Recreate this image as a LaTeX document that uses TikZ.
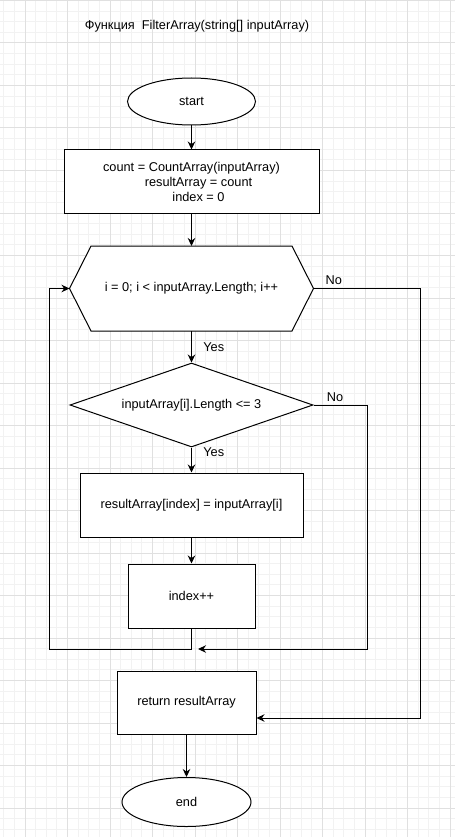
\documentclass[tikz,border=0pt]{standalone}
\usepackage{fontspec}
\setmainfont{Liberation Sans}
\usetikzlibrary{shapes.geometric,arrows.meta}
\definecolor{minorgrid}{RGB}{242,242,242}
\definecolor{majorgrid}{RGB}{224,224,224}
\begin{document}
\begin{tikzpicture}[x=1pt,y=-1pt,
    every node/.style={font=\fontsize{12.75}{15}\selectfont},
    block/.style={draw,fill=white,line width=1pt,rectangle,inner sep=0pt},
    term/.style={draw,fill=white,line width=1pt,ellipse,inner sep=0pt},
    cond/.style={draw,fill=white,line width=1pt,diamond,shape aspect=2.9,
      inner sep=0pt,minimum width=243,minimum height=84},
    link/.style={line width=1pt},
    flow/.style={link,-{Stealth[length=8pt,width=7.5pt]}}]
  \fill[white] (0,0) rectangle (455,837);
  \useasboundingbox (0,0) rectangle (455,837);
  % grid
  \foreach \i in {0,...,42}
    \draw[minorgrid,line width=1pt] ({3.75+\i*10.625},0) -- ({3.75+\i*10.625},837);
  \foreach \i in {0,...,78}
    \draw[minorgrid,line width=1pt] (0,{0.5+\i*10.625}) -- (455,{0.5+\i*10.625});
  \foreach \i in {0,...,10}
    \draw[majorgrid,line width=1pt] ({25+\i*42.5},0) -- ({25+\i*42.5},837);
  \foreach \i in {0,...,19}
    \draw[majorgrid,line width=1pt] (0,{0.5+\i*42.5}) -- (455,{0.5+\i*42.5});

  \node (title) at (197,26) {Функция\ \ FilterArray(string[] inputArray)};
  \node[term,minimum width=128,minimum height=47] (start) at (191.5,101.5) {start};
  \node[block,minimum width=255,minimum height=63,align=center] (init) at (191.5,181.5)
    {count = CountArray(inputArray)\\\hspace*{14pt}resultArray = count\\\hspace*{14pt}index = 0};
  \node[inner sep=0pt,outer sep=0pt,minimum width=244,minimum height=85] (loop) at (191.5,288.5) {};
  \filldraw[link,fill=white] ([xshift=21.5pt]loop.north west) -- ([xshift=-21.5pt]loop.north east)
    -- (loop.east) -- ([xshift=-21.5pt]loop.south east) -- ([xshift=21.5pt]loop.south west)
    -- (loop.west) -- cycle;
  \node (looptext) at (loop) {i = 0; i < inputArray.Length; i++};
  \node[cond] (check) at (191.5,405) {inputArray[i].Length <= 3};
  \node[block,minimum width=223,minimum height=64] (assign) at (191.5,505) {resultArray[index] = inputArray[i]};
  \node[block,minimum width=127,minimum height=64] (incr) at (191.5,596) {index++};
  \node[block,minimum width=139,minimum height=63] (ret) at (186.5,702.5) {return resultArray};
  \node[term,minimum width=129,minimum height=49] (stop) at (186.5,802) {end};
  \coordinate (join) at (198,649);

  \begin{scope}
    \draw[flow] (start) -- (init);
    \draw[flow] (init) -- (loop);
    \draw[flow] (loop) -- node[right,xshift=8pt]{Yes} (check);
    \draw[flow] (check) -- node[right,pos=0.2,xshift=8pt]{Yes} (assign);
    \draw[flow] (assign) -- (incr);
    \draw[flow] (incr.south) -- ++(0,21) -- ++(-142.5,0) |- (loop.west);
    \draw[flow] (check.east) -- node[above,pos=0.4]{No} ++(54,0) |- (join);
    \draw[flow] (loop.east) -- node[above,pos=0.19]{No} ++(106.5,0) |- ([yshift=-15.5pt]ret.east);
    \draw[flow] (ret) -- (stop);
  \end{scope}
\end{tikzpicture}
\end{document}
